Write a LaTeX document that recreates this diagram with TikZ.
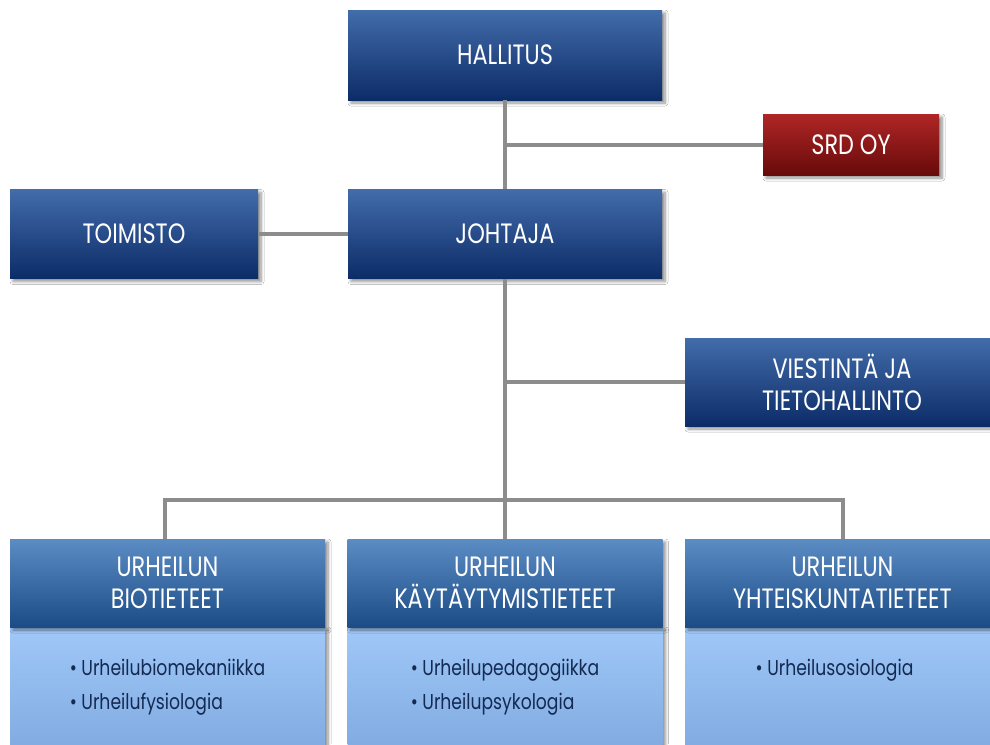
\documentclass[tikz,border=0pt]{standalone}
\usepackage{fontspec}
\setmainfont{Poppins}[FakeStretch=0.8]
\usetikzlibrary{shadows.blur,calc}
\definecolor{dbtop}{RGB}{66,108,170}
\definecolor{dbbot}{RGB}{12,44,104}
\definecolor{rdtop}{RGB}{176,38,38}
\definecolor{rdbot}{RGB}{104,10,10}
\definecolor{hdtop}{RGB}{92,140,196}
\definecolor{hdbot}{RGB}{28,76,134}
\definecolor{bdtop}{RGB}{160,200,248}
\definecolor{bdbot}{RGB}{124,166,222}
\definecolor{conncol}{RGB}{140,140,140}
\definecolor{listcol}{RGB}{20,42,82}
\tikzset{
  boxshadow/.style={blur shadow={shadow xshift=3pt, shadow yshift=-3pt, shadow blur steps=6, shadow blur radius=3pt, shadow opacity=45}},
  topbox/.style={rectangle, inner sep=0pt, top color=dbtop, bottom color=dbbot, text=white, font=\fontsize{28}{32}\selectfont, align=center, boxshadow},
  redbox/.style={topbox, top color=rdtop, bottom color=rdbot},
  headbox/.style={topbox, top color=hdtop, bottom color=hdbot, minimum width=315pt, minimum height=88pt, font=\fontsize{28}{32}\selectfont},
  bodybox/.style={rectangle, inner sep=0pt, top color=bdtop, bottom color=bdbot, text=listcol, minimum width=315pt, minimum height=140pt, boxshadow},
  conn/.style={draw=conncol, line width=4pt},
  listtext/.style={font=\fontsize{21.5}{34}\selectfont, text=listcol, align=left, anchor=north}
}
\begin{document}
\begin{tikzpicture}[x=1pt,y=-1pt]
\useasboundingbox (0,0) rectangle (990,744);
\clip (0,0) rectangle (990,744);
\fill[white] (0,0) rectangle (990,744);
% top boxes
\node[topbox, minimum width=314pt, minimum height=90pt] (hall) at (505,55) {HALLITUS};
\node[redbox, minimum width=176pt, minimum height=61pt] (srd) at (851,144.5) {SRD OY};
\node[topbox, minimum width=248pt, minimum height=89pt] (toim) at (134,234) {TOIMISTO};
\node[topbox, minimum width=314pt, minimum height=89pt] (joh) at (505,234) {JOHTAJA};
\node[topbox, minimum width=314pt, minimum height=88pt] (viest) at (842,382) {VIESTINTÄ JA\\TIETOHALLINTO};
% bottom boxes
\node[bodybox] (bb1) at (167.5,697) {};
\node[bodybox] (bb2) at (505,697) {};
\node[bodybox] (bb3) at (842.5,697) {};
\node[headbox] (bh1) at (167.5,583) {URHEILUN\\BIOTIETEET};
\node[headbox] (bh2) at (505,583) {URHEILUN\\KÄYTÄYTYMISTIETEET};
\node[headbox] (bh3) at (842.5,583) {URHEILUN\\YHTEISKUNTATIETEET};
\node[listtext] (l1) at ($(bh1.south)+(0,28)$) {• Urheilubiomekaniikka\\• Urheilufysiologia};
\node[listtext] (l2) at ($(bh2.south)+(0,28)$) {• Urheilupedagogiikka\\• Urheilupsykologia};
\node[listtext] (l3) at ($(bh3.south)+(-8,28)$) {• Urheilusosiologia};
% connectors
\coordinate (bus) at (505,500);
\draw[conn] (hall.south) -- (joh.north);
\draw[conn] (srd.west -| hall.south) -- (srd.west);
\draw[conn] (toim.east) -- (joh.west);
\draw[conn] (joh.south) -- (bus);
\draw[conn] (viest.west -| joh.south) -- (viest.west);
\draw[conn] ([xshift=-2.5pt]bh1.north) |- (bus) -| (bh3.north);
\draw[conn] (bus) -- (bh2.north);
\end{tikzpicture}
\end{document}
